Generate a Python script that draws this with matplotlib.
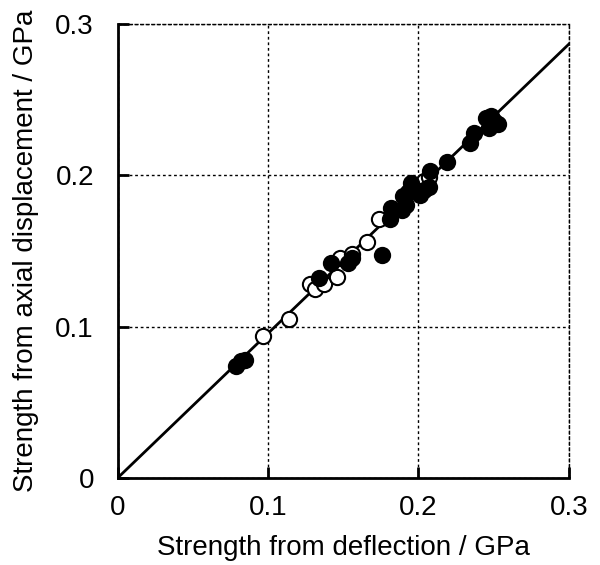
import numpy as np
import matplotlib.pyplot as plt

plt.rcParams['font.family'] = ['Liberation Sans', 'DejaVu Sans']

# filled circles
filled_x = [0.079, 0.082, 0.085, 0.134, 0.142, 0.153, 0.156, 0.176, 0.181, 0.182,
            0.190, 0.189, 0.192, 0.195, 0.193, 0.201, 0.204, 0.207, 0.208, 0.219,
            0.234, 0.237, 0.245, 0.248, 0.250, 0.247, 0.253]
filled_y = [0.074, 0.077, 0.078, 0.132, 0.142, 0.142, 0.145, 0.147, 0.171, 0.178,
            0.186, 0.177, 0.180, 0.195, 0.189, 0.187, 0.190, 0.192, 0.203, 0.209,
            0.221, 0.228, 0.238, 0.239, 0.236, 0.231, 0.234]

# open circles
open_x = [0.097, 0.114, 0.128, 0.131, 0.137, 0.146, 0.148, 0.156, 0.166, 0.174, 0.204, 0.207]
open_y = [0.094, 0.105, 0.128, 0.125, 0.128, 0.133, 0.145, 0.148, 0.156, 0.171, 0.196, 0.199]

# fitted line slope
slope = 0.955
line_x = [0.0, 0.3]

fig = plt.figure(figsize=(6, 5.65), dpi=100)
ax = fig.add_axes([0.196, 0.154, 0.752, 0.804])

ax.plot(line_x, [slope * v for v in line_x], color='black', lw=2, zorder=2)
ax.scatter(open_x, open_y, s=120, facecolor='white', edgecolor='black', linewidth=1.5, zorder=3)
ax.scatter(filled_x, filled_y, s=120, facecolor='black', edgecolor='black', linewidth=1.5, zorder=4)

ax.set_xlim(0, 0.3)
ax.set_ylim(0, 0.3)
ax.set_xticks([0, 0.1, 0.2, 0.3])
ax.set_yticks([0, 0.1, 0.2, 0.3])
ax.set_xticklabels(['0', '0.1', '0.2', '0.3'])
ax.set_yticklabels(['0', '0.1', '0.2', '0.3'])
ax.grid(True, linestyle=(0, (2, 2)), color='black', lw=1)
ax.set_axisbelow(True)

ax.tick_params(direction='in', length=8, width=2, labelsize=20)
ax.tick_params(axis='x', pad=12)
ax.tick_params(axis='y', pad=17)
for side in ['left', 'bottom']:
    ax.spines[side].set_linewidth(2)
for side in ['top', 'right']:
    ax.spines[side].set_linestyle((0, (2, 2)))
    ax.spines[side].set_linewidth(1)

ax.set_xlabel('Strength from deflection / GPa', fontsize=20, labelpad=10)
ax.set_ylabel('Strength from axial displacement / GPa', fontsize=20, labelpad=12)

plt.savefig('out.png', dpi=100)
